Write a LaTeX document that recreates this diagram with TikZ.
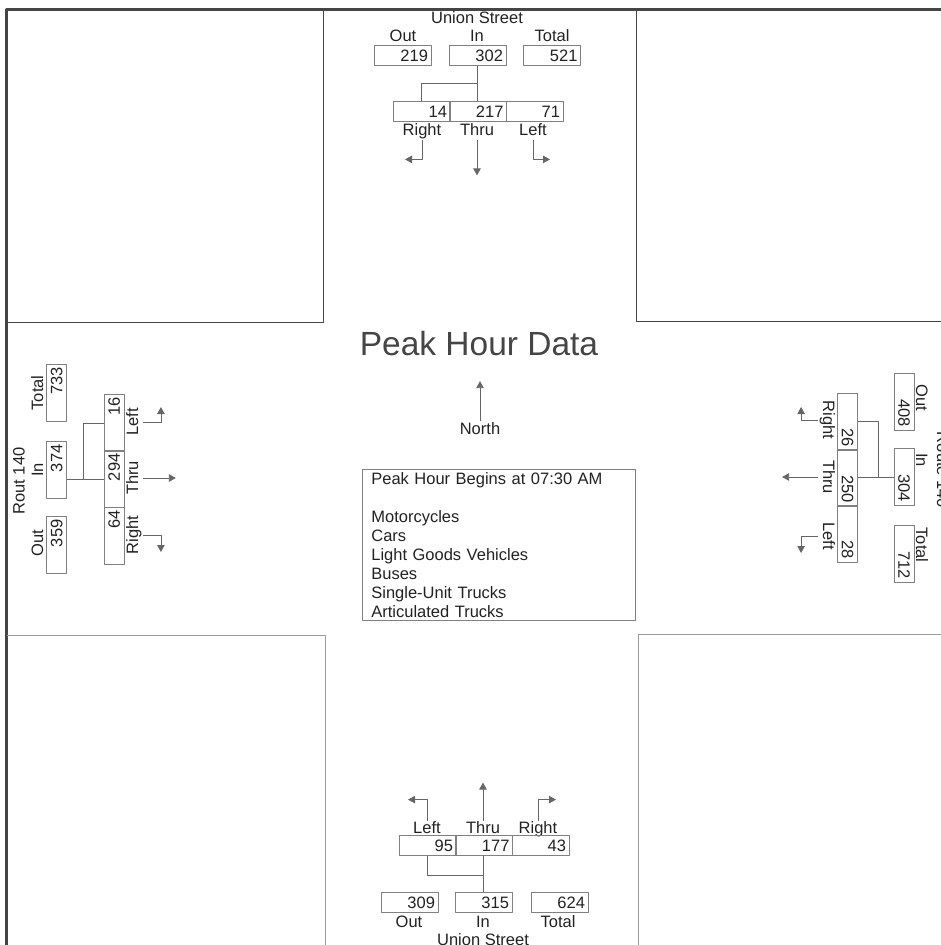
\documentclass[tikz,border=0pt]{standalone}
\usepackage{fontspec}
\setmainfont{Liberation Sans}
\usetikzlibrary{arrows.meta}
\definecolor{ink}{HTML}{222222}
\definecolor{rule}{HTML}{454545}
\definecolor{faint}{HTML}{9A9A9A}
\definecolor{boxline}{HTML}{808080}
\definecolor{wire}{HTML}{666666}
\begin{document}
\begin{tikzpicture}[x=1pt,y=-1pt,line join=round,line width=0.8pt,>={Triangle[length=7pt,width=7.5pt]},
  every node/.style={text=ink,font=\fontsize{16.5}{19}\selectfont},
  valbox/.style={draw=boxline,line width=0.7pt,inner xsep=3pt,inner ysep=0pt,text width=51pt,align=right,minimum height=20pt,text height=11.5pt,text depth=0pt},
  lbl/.style={inner sep=1pt,text height=11.5pt,text depth=3.5pt},
  wire/.style={draw=wire,line width=0.7pt},
  turn/.style={draw=wire,line width=0.8pt,->}]
\useasboundingbox (0,0) rectangle (941,945);
\draw[rule,line width=3pt] (6.7,945) -- (6.7,9.5) -- (941,9.5);
\draw[rule,line width=1pt] (7,322) -- (323,322) -- (323,9);
\draw[rule,line width=1pt] (941,321) -- (636,321) -- (636,9);
\draw[faint,line width=1pt] (7,635) -- (325,635) -- (325,945);
\draw[faint,line width=1pt] (941,634) -- (638,634) -- (638,945);

\node[lbl] (nStreet) at (477,19) {Union Street};
\node[lbl] (nOutL) at (403,37) {Out};
\node[lbl] (nInL) at (477,37) {In};
\node[lbl] (nTotL) at (552,37) {Total};
\node[valbox] (nOut) at (402.5,55.5) {219};
\node[valbox] (nIn) at (477.5,55.5) {302};
\node[valbox] (nTot) at (552,55.5) {521};
\node[valbox] (nR) at (421.5,111.5) {14};
\node[valbox] (nT) at (478,111.5) {217};
\node[valbox] (nL) at (534.5,111.5) {71};
\node[lbl] (nRl) at (422,131.5) {Right};
\node[lbl] (nTl) at (477,131.5) {Thru};
\node[lbl] (nLl) at (533,131.5) {Left};
\draw[wire] (nIn.south) -- (nIn.south |- nT.north);
\draw[wire] (nR.north) -- ++(0,-18) -| (nIn.south);
\draw[turn] (nRl.south) |- ++(-17,19);
\draw[turn] (nTl.south) -- ++(0,35);
\draw[turn] (nLl.south) |- ++(17,19);

\node[lbl] (sLl) at (427,829.5) {Left};
\node[lbl] (sTl) at (483,829.5) {Thru};
\node[lbl] (sRl) at (538,829.5) {Right};
\node[valbox] (sL) at (427.5,845.5) {95};
\node[valbox] (sT) at (484,845.5) {177};
\node[valbox] (sR) at (540.5,845.5) {43};
\node[valbox] (sOut) at (409.5,902.5) {309};
\node[valbox] (sIn) at (483.5,902.5) {315};
\node[valbox] (sTot) at (559.5,902.5) {624};
\node[lbl] (sOutL) at (409,923.5) {Out};
\node[lbl] (sInL) at (483,923.5) {In};
\node[lbl] (sTotL) at (558,923.5) {Total};
\node[lbl] (sStreet) at (483,941) {Union Street};
\draw[wire] (sIn.north) -- (sIn.north |- sT.south);
\draw[wire] (sL.south) -- ++(0,19) -| (sIn.north);
\draw[turn] (sLl.north) |- ++(-19,-21);
\draw[turn] (sTl.north) -- ++(0,-38);
\draw[turn] (sRl.north) |- ++(18,-21);

\node[lbl,rotate=90] (wTotL) at (39,393) {Total};
\node[lbl,rotate=90] (wInL) at (39,470) {In};
\node[lbl,rotate=90] (wOutL) at (39,543) {Out};
\node[lbl,rotate=90] (wName) at (20.5,481) {Rout 140};
\node[valbox,rotate=90] (wTot) at (56.5,392.5) {733};
\node[valbox,rotate=90] (wIn) at (56.5,470) {374};
\node[valbox,rotate=90] (wOut) at (56.5,545) {359};
\node[valbox,rotate=90] (wL) at (114,423) {16};
\node[valbox,rotate=90] (wT) at (114,479) {294};
\node[valbox,rotate=90] (wR) at (114,535.5) {64};
\node[lbl,rotate=90] (wLl) at (134,422) {Left};
\node[lbl,rotate=90] (wTl) at (134,478) {Thru};
\node[lbl,rotate=90] (wRl) at (134,535) {Right};
\draw[wire] (wT.north) -- (wT.north -| wIn.south);
\draw[wire] (wL.north) -- ++(-20,0) |- (wT.north);
\draw[turn] (wLl.south) -| ++(18,-15);
\draw[turn] (wTl.south) -- ++(33,0);
\draw[turn] (wRl.south) -| ++(18,17);

\node[lbl,rotate=-90] (eOutL) at (920,398) {Out};
\node[lbl,rotate=-90] (eInL) at (920,460) {In};
\node[lbl,rotate=-90] (eTotL) at (920,545) {Total};
\node[lbl,rotate=-90] (eName) at (941,470) {Route 140};
\node[valbox,rotate=-90] (eOut) at (904,401.5) {408};
\node[valbox,rotate=-90] (eIn) at (904,476.5) {304};
\node[valbox,rotate=-90] (eTot) at (904,553.5) {712};
\node[valbox,rotate=-90] (eR) at (847.5,421.5) {26};
\node[valbox,rotate=-90] (eT) at (847.5,477.5) {250};
\node[valbox,rotate=-90] (eL) at (847.5,533.5) {28};
\node[lbl,rotate=-90] (eRl) at (827,420) {Right};
\node[lbl,rotate=-90] (eTl) at (827,477) {Thru};
\node[lbl,rotate=-90] (eLl) at (827,536) {Left};
\draw[wire] (eT.north) -- (eT.north -| eIn.south);
\draw[wire] (eR.north) -- ++(20,0) |- (eT.north);
\draw[turn] (eRl.south) -| ++(-17,-13);
\draw[turn] (eTl.south) -- ++(-36,0);
\draw[turn] (eLl.south) -| ++(-17,17);

\node[font=\fontsize{33.5}{40}\selectfont,text=rule] (title) at (479,344) {Peak Hour Data};
\node[lbl] (north) at (480,430) {North};
\draw[turn] (north.north) -- ++(0,-40);
\node[draw=boxline,line width=0.7pt,anchor=north west,inner xsep=9pt,inner ysep=3pt,text width=255pt,align=left] (info) at (362,469)
  {Peak Hour Begins at 07:30 AM\\[19pt]Motorcycles\\Cars\\Light Goods Vehicles\\Buses\\Single-Unit Trucks\\Articulated Trucks};
\end{tikzpicture}
\end{document}
